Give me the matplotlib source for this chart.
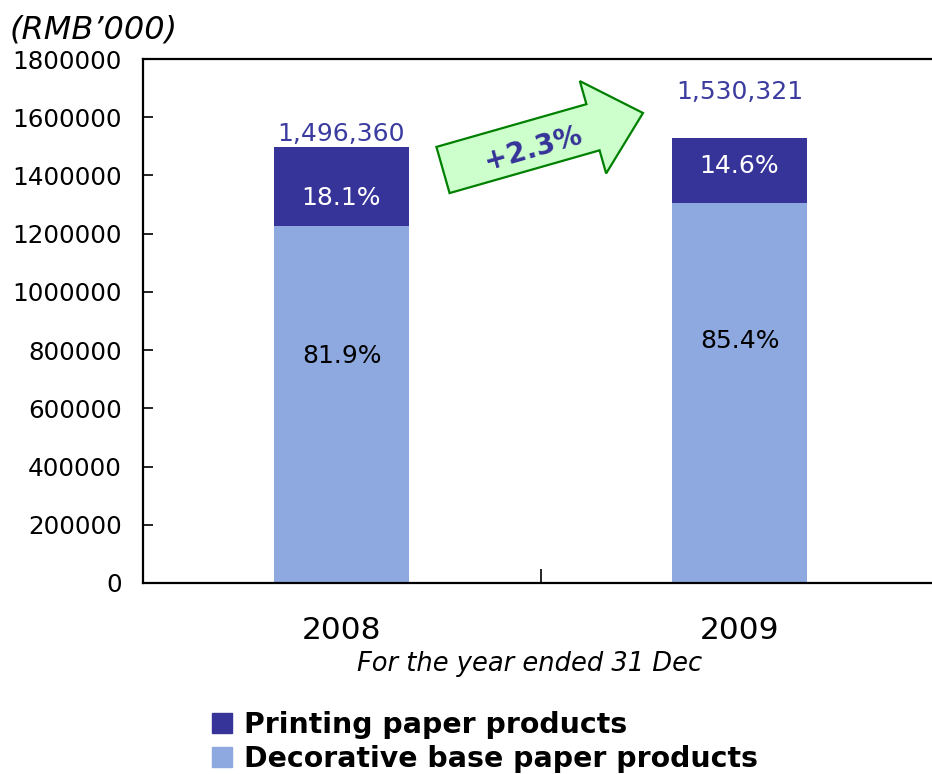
import matplotlib
matplotlib.use("Agg")
import matplotlib.pyplot as plt
import matplotlib.patches as mpatches
from matplotlib.ticker import FixedLocator

plt.rcParams["font.family"] = ["DejaVu Sans"]

# Revenue by product line (RMB'000)
years = ["2008", "2009"]
totals = [1496360, 1530321]
decorative_share = [81.9, 85.4]
printing_share = [18.1, 14.6]
growth_label = "+2.3%"
y_ticks = [0, 200000, 400000, 600000, 800000, 1000000, 1200000, 1400000, 1600000, 1800000]

decorative = [t * s / 100 for t, s in zip(totals, decorative_share)]
printing = [t - d for t, d in zip(totals, decorative)]

DARK = "#363399"
LIGHT = "#8EA9E0"
LABEL_BLUE = "#3B3BA0"

W, H = 932, 774
fig = plt.figure(figsize=(W / 100, H / 100), dpi=100)
ax = fig.add_axes([142.5 / W, (H - 583) / H, 796 / W, 524 / H])

x = list(range(len(years)))
bw = 0.34
ax.bar(x, decorative, width=bw, color=LIGHT, zorder=2)
ax.bar(x, printing, width=bw, bottom=decorative, color=DARK, zorder=2)

ax.set_xlim(-0.5, 1.5)
ax.set_ylim(0, 1800000)

ax.set_yticks(y_ticks)
ax.set_yticklabels([str(v) for v in y_ticks])
ax.tick_params(axis="y", direction="in", length=7, width=1.2, labelsize=17.7, pad=15)

ax.set_xticks(x)
ax.set_xticklabels(years)
ax.tick_params(axis="x", which="major", length=0, labelsize=22.5, pad=24)
ax.xaxis.set_minor_locator(FixedLocator([0.5]))
ax.tick_params(axis="x", which="minor", direction="in", length=10, width=1.2)

for s in ["top", "left", "bottom", "right"]:
    ax.spines[s].set_linewidth(1.6)
    ax.spines[s].set_color("black")

# Segment share labels
for i in x:
    ax.text(i, decorative[i] * 0.635, f"{decorative_share[i]}%", ha="center",
            va="center", fontsize=18, color="black", zorder=3)
    frac = 0.36 if i == 0 else 0.56
    ax.text(i, decorative[i] + printing[i] * frac, f"{printing_share[i]}%", ha="center",
            va="center", fontsize=18, color="white", zorder=3)

# Totals above the bars
offsets = [1, 24]
for i in x:
    ax.annotate(f"{totals[i]:,}", (i, totals[i]), xytext=(0, offsets[i]),
                textcoords="offset points", ha="center", va="bottom",
                fontsize=18, color=LABEL_BLUE)

# Growth arrow between the years (positioned in figure inches)
arrow = mpatches.FancyArrow(4.43, (H - 170) / 100, 2.00, 0.57, width=0.48,
                            head_width=0.96, head_length=0.52,
                            length_includes_head=True, transform=fig.dpi_scale_trans,
                            facecolor="#CCFFCC", edgecolor="#008000", linewidth=1.6,
                            zorder=5)
fig.patches.append(arrow)
fig.text(533 / W, 1 - 148 / H, growth_label, ha="center", va="center",
         rotation=16, fontsize=20, fontweight="bold", color=DARK, zorder=6)

fig.text(10 / W, 1 - 30 / H, "(RMB\u2019000)", ha="left", va="center",
         fontsize=23, style="italic")
fig.text(530 / W, 1 - 664 / H, "For the year ended 31 Dec", ha="center",
         va="center", fontsize=18.5, style="italic")

handles = [mpatches.Patch(color=DARK, label="Printing paper products"),
           mpatches.Patch(color=LIGHT, label="Decorative base paper products")]
fig.legend(handles=handles, loc="upper left", bbox_to_anchor=(212 / W, 1 - 711 / H),
           frameon=False, prop={"size": 20.4, "weight": "bold"}, handlelength=0.72,
           handleheight=0.72, handletextpad=0.42, labelspacing=0.2, borderaxespad=0,
           borderpad=0)

fig.savefig("out.png", dpi=100)
